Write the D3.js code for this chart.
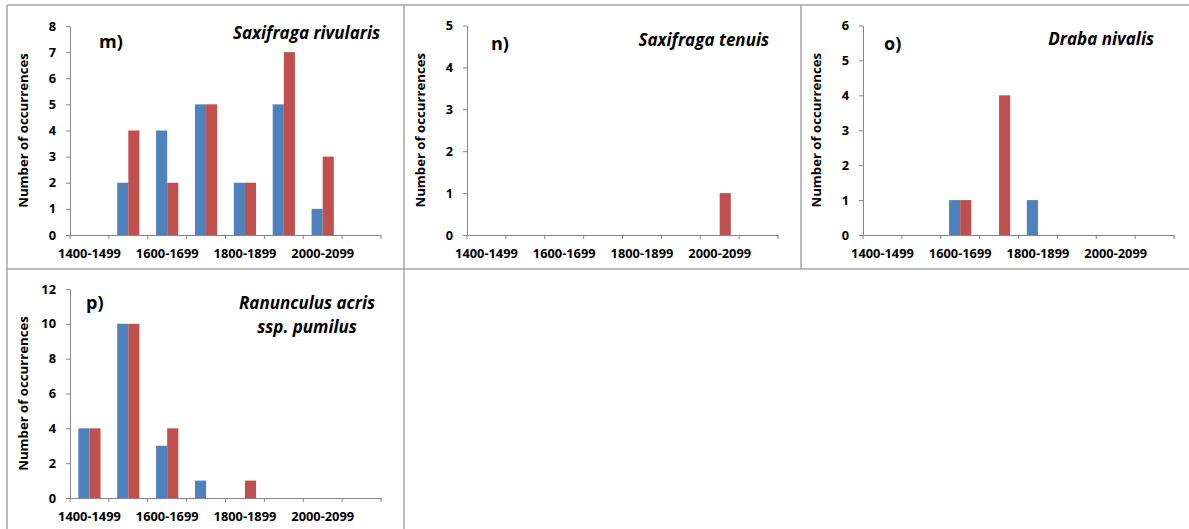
<!DOCTYPE html>
<html><head><meta charset="utf-8">
<script src="https://cdn.jsdelivr.net/npm/d3@7"></script>
<style>
html,body{margin:0;padding:0;background:#fff;}
svg{display:block;}
text{font-family:"Open Sans",Lato,sans-serif;font-weight:bold;fill:#000;}
</style></head>
<body>
<svg id="chart" width="1189" height="529"></svg>
<script>
// ---- data ----
const categories = ["1400-1499","1500-1599","1600-1699","1700-1799","1800-1899","1900-1999","2000-2099","2100-2199"];
const shownTickLabels = ["1400-1499","1600-1699","1800-1899","2000-2099"];
const yAxisTitle = "Number of occurrences";

const mLabel = "m)", mTitle = ["Saxifraga rivularis"];
const mBlue = [0,2,4,5,2,5,1,0];
const mRed  = [0,4,2,5,2,7,3,0];
const mTicks = [0,1,2,3,4,5,6,7,8];

const nLabel = "n)", nTitle = ["Saxifraga tenuis"];
const nBlue = [0,0,0,0,0,0,0,0];
const nRed  = [0,0,0,0,0,0,1,0];
const nTicks = [0,1,2,3,4,5];

const oLabel = "o)", oTitle = ["Draba nivalis"];
const oBlue = [0,0,1,0,1,0,0,0];
const oRed  = [0,0,1,4,0,0,0,0];
const oTicks = [0,1,2,3,4,5,6];

const pLabel = "p)", pTitle = ["Ranunculus acris","ssp. pumilus"];
const pBlue = [4,10,3,1,0,0,0,0];
const pRed  = [4,10,4,0,1,0,0,0];
const pTicks = [0,2,4,6,8,10,12];

// ---- layout / style ----
const blueColor = "#4F81BD", redColor = "#C0504D";
const axisColor = "#868686", frameColor = "#a6a6a6";
const tickFont = "12.8px", yTitleFont = "13.2px", labelFont = "18px", titleFont = "17px";

const panels = [
  {label:mLabel, title:mTitle, blue:mBlue, red:mRed, ticks:mTicks,
   box:{l:70,r:381,t:26,b:235}, lab:{x:99,y:48}, tit:{x:380,y:39,anchor:"end"}},
  {label:nLabel, title:nTitle, blue:nBlue, red:nRed, ticks:nTicks,
   box:{l:467,r:778,t:25.5,b:235}, lab:{x:491,y:50}, tit:{x:769,y:46,anchor:"end"}},
  {label:oLabel, title:oTitle, blue:oBlue, red:oRed, ticks:oTicks,
   box:{l:863,r:1174,t:25.5,b:235}, lab:{x:884,y:50}, tit:{x:1154,y:45,anchor:"end"}},
  {label:pLabel, title:pTitle, blue:pBlue, red:pRed, ticks:pTicks,
   box:{l:70,r:381,t:289,b:498}, lab:{x:86,y:309}, tit:{x:307,y:309,anchor:"middle"}}
];

const svg = d3.select("#chart");

// frame lines
const frame = [
  [7,5,1189,5],[7,5,7,529],[404,5,404,529],[801,5,801,269],[7,269,1189,269]
];
svg.append("g").selectAll("line").data(frame).join("line")
  .attr("x1",d=>d[0]).attr("y1",d=>d[1]).attr("x2",d=>d[2]).attr("y2",d=>d[3])
  .attr("stroke",frameColor).attr("stroke-width",1.5);

panels.forEach(p=>{
  const g = svg.append("g");
  const x = d3.scaleBand().domain(categories).range([p.box.l,p.box.r]).paddingInner(0).paddingOuter(0);
  const y = d3.scaleLinear().domain([0,d3.max(p.ticks)]).range([p.box.b,p.box.t]);
  const bw = x.bandwidth()/3.5;
  const off = (x.bandwidth()-2*bw)/2;

  // bars
  const rows = categories.map((c,i)=>({c, blue:p.blue[i], red:p.red[i]}));
  g.append("g").selectAll("rect").data(rows.filter(d=>d.blue>0)).join("rect")
    .attr("x",d=>x(d.c)+off).attr("width",bw)
    .attr("y",d=>y(d.blue)).attr("height",d=>y(0)-y(d.blue))
    .attr("fill",blueColor);
  g.append("g").selectAll("rect").data(rows.filter(d=>d.red>0)).join("rect")
    .attr("x",d=>x(d.c)+off+bw).attr("width",bw)
    .attr("y",d=>y(d.red)).attr("height",d=>y(0)-y(d.red))
    .attr("fill",redColor);

  // y axis
  const ya = g.append("g").attr("transform",`translate(${p.box.l},0)`)
    .call(d3.axisLeft(y).tickValues(p.ticks).tickSize(4).tickSizeOuter(0).tickPadding(10).tickFormat(d3.format("d")));
  ya.select(".domain").attr("stroke",axisColor);
  ya.selectAll(".tick line").attr("stroke",axisColor);
  ya.selectAll(".tick text").attr("font-size",tickFont).attr("font-family","'Open Sans',sans-serif").attr("font-weight","bold").attr("fill","#000");

  // x axis
  const xa = g.append("g").attr("transform",`translate(0,${p.box.b})`)
    .call(d3.axisBottom(x).tickSize(0).tickSizeOuter(0).tickPadding(14)
      .tickFormat(d=>shownTickLabels.includes(d)?d:""));
  xa.select(".domain").attr("stroke",axisColor);
  xa.selectAll(".tick text").attr("font-size",tickFont).attr("font-family","'Open Sans',sans-serif").attr("font-weight","bold").attr("fill","#000");
  const bounds = categories.map(c=>x(c)).concat([x(categories[categories.length-1])+x.bandwidth()]);
  xa.append("g").selectAll("line").data(bounds).join("line")
    .attr("x1",d=>d).attr("x2",d=>d).attr("y1",0).attr("y2",4).attr("stroke",axisColor);

  // y title
  const cy = (p.box.t+p.box.b)/2, cx = p.box.l-47;
  g.append("text").attr("transform",`translate(${cx},${cy}) rotate(-90)`)
    .attr("text-anchor","middle").attr("dominant-baseline","central")
    .attr("font-size",yTitleFont).text(yAxisTitle);

  // panel label
  g.append("text").attr("x",p.lab.x).attr("y",p.lab.y).attr("font-size",labelFont).text(p.label);

  // species title
  p.title.forEach((t,i)=>{
    g.append("text").attr("x",p.tit.x).attr("y",p.tit.y+i*23.5)
      .attr("text-anchor",p.tit.anchor).attr("font-size",titleFont).attr("font-style","italic").text(t);
  });
});
</script>
</body></html>
